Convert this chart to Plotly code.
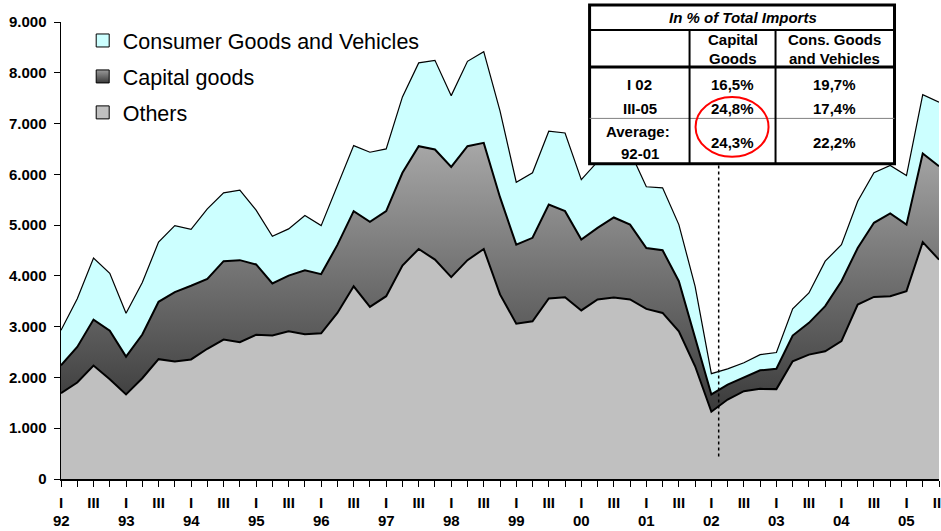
import plotly.graph_objects as go

# ---------------- data ----------------
years = ["92", "93", "94", "95", "96", "97", "98", "99", "00", "01", "02", "03", "04", "05"]
quarter_numerals = ["I", "II", "III", "IV"]

others = [1690, 1900, 2235, 1965, 1665, 1985, 2360, 2315, 2355, 2565, 2745, 2695, 2840, 2825,
          2910, 2850, 2870, 3270, 3795, 3390, 3600, 4205, 4530, 4320, 3975, 4310, 4530, 3635,
          3060, 3105, 3555, 3580, 3320, 3535, 3575, 3535, 3350, 3270, 2910, 2220, 1325, 1565,
          1730, 1775, 1770, 2320, 2450, 2515, 2715, 3435, 3585, 3600, 3700, 4665, 4320]
capital = [550, 700, 905, 955, 745, 860, 1130, 1365, 1450, 1375, 1545, 1615, 1385, 1025,
           1095, 1260, 1165, 1340, 1480, 1675, 1675, 1825, 2025, 2170, 2170, 2245, 2090, 1915,
           1555, 1645, 1850, 1695, 1395, 1410, 1575, 1475, 1200, 1235, 985, 560, 340, 295,
           265, 365, 400, 505, 625, 890, 1180, 1115, 1460, 1630, 1310, 1745, 1840]
consumer = [690, 950, 1210, 1130, 855, 1025, 1175, 1310, 1110, 1380, 1345, 1380, 1070, 930,
            920, 1080, 955, 1160, 1290, 1370, 1225, 1495, 1640, 1755, 1405, 1670, 1795, 1700,
            1230, 1280, 1445, 1540, 1180, 1305, 1250, 1440, 1205, 1230, 1115, 1015, 410, 310,
            295, 310, 320, 525, 590, 885, 720, 920, 985, 945, 965, 1160, 1260]

series_names = ["Consumer Goods and Vehicles", "Capital goods", "Others"]

table_title = "In % of Total Imports"
table_headers = [["Capital", "Goods"], ["Cons. Goods", "and Vehicles"]]
table_row1_labels = ["I 02", "III-05"]
table_row1_capital = ["16,5%", "24,8%"]
table_row1_consumer = ["19,7%", "17,4%"]
table_row2_labels = ["Average:", "92-01"]
table_row2_capital = "24,3%"
table_row2_consumer = "22,2%"

n = len(others)
quarters = [f"{years[i // 4]} {quarter_numerals[i % 4]}" for i in range(n)]
tick_text = [quarter_numerals[i % 4] if i % 4 in (0, 2) else "" for i in range(n)]

# ---------------- geometry helpers (window pixels) ----------------
W, H = 941, 531
PLOT_X0, PLOT_X1, PLOT_Y0, PLOT_Y1 = 61.3, 939.5, 22, 479.5
L = PLOT_X0
R = W - PLOT_X1
T = PLOT_Y0
B = H - PLOT_Y1


def px(x):
    return (x - PLOT_X0) / (PLOT_X1 - PLOT_X0)


def py(y):
    return (PLOT_Y1 - y) / (PLOT_Y1 - PLOT_Y0)


FONT = "Arial, Liberation Sans, sans-serif"

fig = go.Figure()

fig.add_trace(go.Scatter(
    x=quarters, y=others, stackgroup="imp", mode="lines",
    line=dict(color="black", width=2), fillcolor="#C0C0C0",
    showlegend=False, hoverinfo="skip"))
fig.add_trace(go.Scatter(
    x=quarters, y=capital, stackgroup="imp", mode="lines",
    line=dict(color="black", width=2),
    fillgradient=dict(type="vertical", colorscale=[[0, "#3a3a3a"], [1, "#a8a8a8"]],
                      start=1300, stop=6650),
    showlegend=False, hoverinfo="skip"))
fig.add_trace(go.Scatter(
    x=quarters, y=consumer, stackgroup="imp", mode="lines",
    line=dict(color="black", width=1.2), fillcolor="#CCFFFF",
    showlegend=False, hoverinfo="skip"))

# legend entries
leg_styles = [
    dict(color="#CCFFFF"),
    dict(color="#9a9a9a", gradient=dict(type="vertical", color="#3a3a3a")),
    dict(color="#C0C0C0"),
]
for name, st in zip(series_names, leg_styles):
    fig.add_trace(go.Scatter(
        x=[None], y=[None], mode="markers", name=name, legendgroup=name,
        marker=dict(symbol="square", size=13, line=dict(color="black", width=1), **st)))

shapes = []
annotations = []

# dotted vertical marker
shapes.append(dict(type="line", xref="x", yref="paper", x0=40.45, x1=40.45,
                   y0=py(457), y1=py(165), line=dict(color="black", width=1.5, dash="dot")))

# table
tx0, tx1, ty0, ty1 = 590, 895, 5, 164
cx1, cx2 = 690, 776
shapes.append(dict(type="rect", xref="paper", yref="paper", x0=px(tx0), x1=px(tx1),
                   y0=py(ty1), y1=py(ty0), fillcolor="white",
                   line=dict(color="black", width=3), layer="above"))
shapes.append(dict(type="line", xref="paper", yref="paper", x0=px(tx0), x1=px(tx1),
                   y0=py(30), y1=py(30), line=dict(color="black", width=2), layer="above"))
shapes.append(dict(type="line", xref="paper", yref="paper", x0=px(tx0), x1=px(tx1),
                   y0=py(67), y1=py(67), line=dict(color="black", width=3), layer="above"))
shapes.append(dict(type="line", xref="paper", yref="paper", x0=px(tx0), x1=px(tx1),
                   y0=py(118.5), y1=py(118.5), line=dict(color="#808080", width=1), layer="above"))
for cx in (cx1, cx2):
    shapes.append(dict(type="line", xref="paper", yref="paper", x0=px(cx), x1=px(cx),
                       y0=py(30), y1=py(ty1), line=dict(color="black", width=2), layer="above"))

# red circle
shapes.append(dict(type="circle", xref="paper", yref="paper", x0=px(696), x1=px(769),
                   y0=py(157), y1=py(97), line=dict(color="red", width=2), layer="above"))


def tab_text(text, x, y, italic=False):
    t = f"<b>{text}</b>"
    if italic:
        t = f"<i>{t}</i>"
    annotations.append(dict(text=t, xref="paper", yref="paper", x=px(x), y=py(y),
                            xanchor="center", yanchor="middle", showarrow=False,
                            font=dict(family=FONT, size=15, color="black")))


col1c, col2c, col3c = 640, 733, 835
tab_text(table_title, 743, 17.5, italic=True)
tab_text(table_headers[0][0], col2c, 40)
tab_text(table_headers[0][1], col2c, 59)
tab_text(table_headers[1][0], col3c, 40)
tab_text(table_headers[1][1], col3c, 59)
for k, yy in enumerate((84.5, 108.5)):
    tab_text(table_row1_labels[k], col1c, yy)
    tab_text(table_row1_capital[k], col2c, yy)
    tab_text(table_row1_consumer[k], col3c, yy)
tab_text(table_row2_labels[0], col1c - 2, 131.5)
tab_text(table_row2_labels[1], col1c, 153.5)
tab_text(table_row2_capital, col2c, 143)
tab_text(table_row2_consumer, col3c, 143)

# year labels
for k, yr in enumerate(years):
    annotations.append(dict(text=f"<b>{yr}</b>", xref="x", yref="paper", x=quarters[4 * k],
                            y=py(521), xanchor="center", yanchor="middle", showarrow=False,
                            font=dict(family=FONT, size=15, color="black")))

fig.update_layout(
    width=W, height=H,
    margin=dict(l=L, r=R, t=T, b=B, autoexpand=False),
    paper_bgcolor="white", plot_bgcolor="white",
    separators=",.",
    font=dict(family=FONT, color="black"),
    shapes=shapes, annotations=annotations,
    hovermode=False,
    legend=dict(x=px(83), y=py(20), xanchor="left", yanchor="top",
                font=dict(family=FONT, size=21.5, color="black"),
                bgcolor="rgba(0,0,0,0)", traceorder="grouped", tracegroupgap=5,
                itemsizing="trace"),
    xaxis=dict(type="category", range=[0, n - 1], tickmode="array", tickvals=quarters,
               ticktext=tick_text, ticks="outside", ticklen=6, tickcolor="black",
               showline=True, linecolor="black", linewidth=1.5, showgrid=False,
               zeroline=False, automargin=False, ticklabelstandoff=3,
               tickfont=dict(family=FONT, size=15, color="black", weight="bold")),
    yaxis=dict(range=[0, 9000], tickvals=list(range(0, 9001, 1000)), tickformat=",d",
               ticks="outside", ticklen=6, tickcolor="black", showline=True,
               linecolor="black", linewidth=1.5, showgrid=False, zeroline=False,
               automargin=False, ticklabelstandoff=4,
               tickfont=dict(family=FONT, size=15, color="black", weight="bold")),
)

# remove the browser's default 8px page margin so the figure fills the window exactly
fig.write_html("out.html",
               config={"displayModeBar": False, "staticPlot": True},
               post_script="document.body.style.margin='0px';document.body.style.overflow='hidden';")
